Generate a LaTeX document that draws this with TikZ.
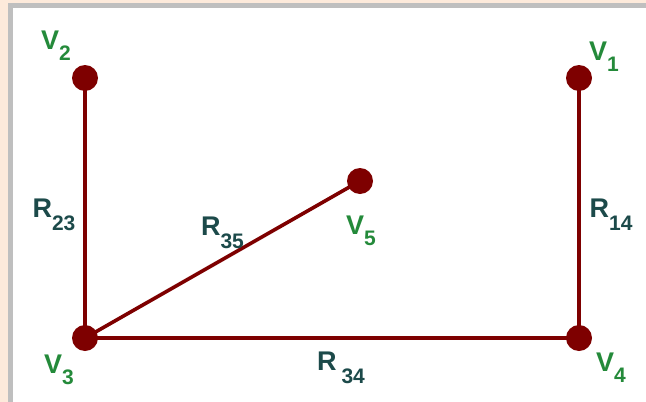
\documentclass[tikz,border=0pt]{standalone}
\usepackage{fontspec}
\setmainfont{Liberation Sans}
\usetikzlibrary{positioning}

\definecolor{wirered}{HTML}{7E0000}
\definecolor{vgreen}{HTML}{248A3A}
\definecolor{rteal}{HTML}{1C4A4A}
\definecolor{peach}{HTML}{FDEADB}

% subscript in the label font
\newcommand{\sbv}[1]{\raisebox{-11pt}{\fontsize{21}{21}\selectfont #1}}
\newcommand{\sbr}[1]{\raisebox{-13pt}{\fontsize{21}{21}\selectfont #1}}

\begin{document}
\begin{tikzpicture}[x=1pt, y=-1pt, font=\fontsize{27}{29}\selectfont\bfseries,
  vtx/.style={circle, fill=wirered, inner sep=0pt, minimum size=26pt},
  wire/.style={draw=wirered, line width=3.6pt},
  vlbl/.style={text=vgreen, inner sep=0pt},
  rlbl/.style={text=rteal, inner sep=0pt, midway}]

% ── Panel ────────────────────────────────────────────────────
\fill[peach] (0,0) rectangle (646,402);
\useasboundingbox (0,0) rectangle (646,402);
\fill[white] (13,8) rectangle (646,402);
\draw[gray!50, line width=5pt] (10.5,402) -- (10.5,5.5) -- (646,5.5);

% ── Vertex positions ─────────────────────────────────────────
\coordinate (v1) at (579,78);
\coordinate (v2) at (85,78);
\coordinate (v3) at (85,338);
\coordinate (v4) at (579,338);
\coordinate (v5) at (360,181);

% ── Branches with resistor labels ────────────────────────────
\draw[wire] (v2) -- node[rlbl, xshift=-31pt, yshift=-7pt] {R\sbr{23}} (v3);
\draw[wire] (v1) -- node[rlbl, xshift=32pt, yshift=-7pt] {R\sbr{14}} (v4);
\draw[wire] (v3) -- node[rlbl, xshift=9pt, yshift=-30pt] {R\hspace{5pt}\sbr{34}} (v4);
\draw[wire] (v3) -- node[rlbl, yshift=27pt] {R\sbr{35}} (v5);

% ── Vertices ─────────────────────────────────────────────────
\foreach \v in {v1,v2,v3,v4,v5} {
    \node[vtx] (d\v) at (\v) {};
}

% ── Vertex labels ────────────────────────────────────────────
\node[vlbl] (lv1) at (604,57)  {V\sbv{1}};
\node[vlbl] (lv2) at (56,46)   {V\sbv{2}};
\node[vlbl] (lv3) at (59,370)  {V\sbv{3}};
\node[vlbl] (lv4) at (611,368) {V\sbv{4}};
\node[vlbl] (lv5) at (361,231) {V\sbv{5}};

\end{tikzpicture}
\end{document}
